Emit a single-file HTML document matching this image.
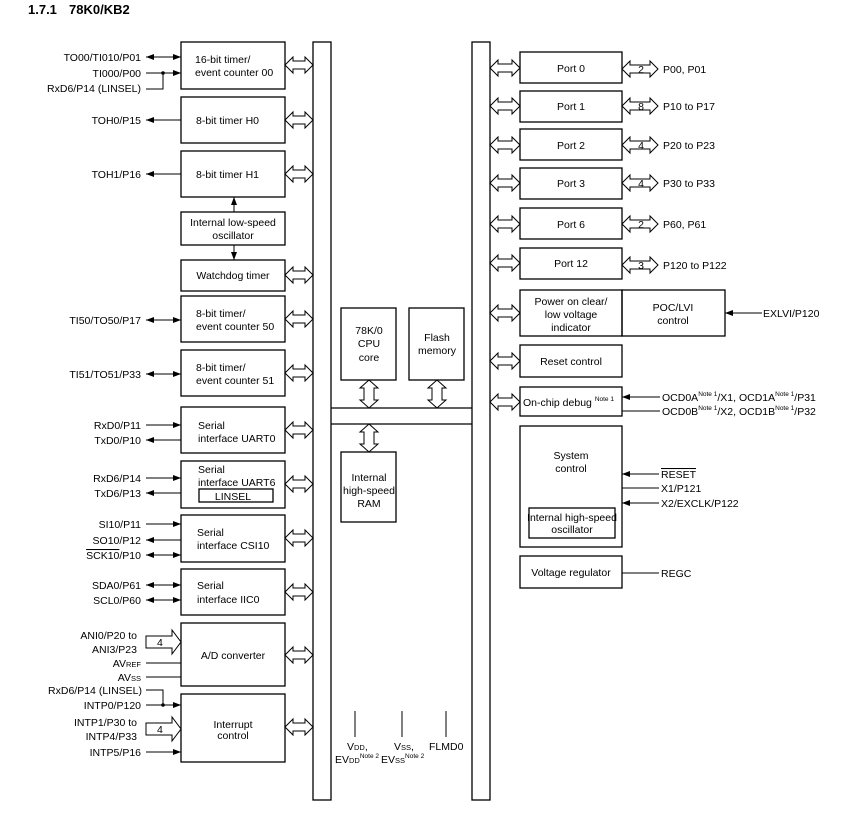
<!DOCTYPE html>
<html><head><meta charset="utf-8"><style>
body{margin:0;background:#fff}
svg{display:block;font-family:"Liberation Sans",Arial,sans-serif;font-size:10.5px}
</style></head><body>
<svg width="846" height="826" viewBox="0 0 846 826" xmlns="http://www.w3.org/2000/svg">
<defs>
<marker id="a" viewBox="0 0 8 6" refX="8" refY="3" markerWidth="8" markerHeight="6" markerUnits="userSpaceOnUse" orient="auto-start-reverse"><path d="M0,0L8,3L0,6z" fill="#000"/></marker>
</defs>
<text x="28" y="14" font-weight="bold" font-size="13">1.7.1<tspan x="69">78K0/KB2</tspan></text>
<g fill="none" stroke="#000" stroke-width="1.3">
<rect x="313" y="42" width="18" height="758"/>
<rect x="472" y="42" width="18" height="758"/>
<path d="M331 408H472M331 424H472"/>
<rect x="341" y="308" width="55" height="72"/>
<rect x="409" y="308" width="55" height="72"/>
<rect x="341" y="452" width="55" height="70"/>
<rect x="181" y="42" width="104" height="47"/>
<rect x="181" y="97" width="104" height="46"/>
<rect x="181" y="151" width="104" height="46"/>
<rect x="181" y="212" width="104" height="33"/>
<rect x="181" y="260" width="104" height="31"/>
<rect x="181" y="296" width="104" height="46"/>
<rect x="181" y="350" width="104" height="46"/>
<rect x="181" y="407" width="104" height="46"/>
<rect x="181" y="461" width="104" height="47"/>
<rect x="199" y="489" width="74" height="13"/>
<rect x="181" y="515" width="104" height="47"/>
<rect x="181" y="569" width="104" height="46"/>
<rect x="181" y="623" width="104" height="63"/>
<rect x="181" y="694" width="104" height="68"/>
<rect x="520" y="52" width="102" height="31"/>
<rect x="520" y="91" width="102" height="31"/>
<rect x="520" y="129" width="102" height="31"/>
<rect x="520" y="168" width="102" height="31"/>
<rect x="520" y="208" width="102" height="31"/>
<rect x="520" y="248" width="102" height="31"/>
<rect x="520" y="290" width="102" height="46"/>
<rect x="622" y="290" width="103" height="46"/>
<rect x="520" y="345" width="102" height="32"/>
<rect x="520" y="387" width="102" height="29"/>
<rect x="520" y="426" width="102" height="121"/>
<rect x="529" y="508" width="86" height="30"/>
<rect x="520" y="556" width="102" height="32"/>
</g>
<g fill="#fff" stroke="#000" stroke-width="1">
<path d="M285 65l8-8v4h12v-4l8 8-8 8v-4h-12v4z"/>
<path d="M285 120l8-8v4h12v-4l8 8-8 8v-4h-12v4z"/>
<path d="M285 174l8-8v4h12v-4l8 8-8 8v-4h-12v4z"/>
<path d="M285 275l8-8v4h12v-4l8 8-8 8v-4h-12v4z"/>
<path d="M285 319l8-8v4h12v-4l8 8-8 8v-4h-12v4z"/>
<path d="M285 373l8-8v4h12v-4l8 8-8 8v-4h-12v4z"/>
<path d="M285 430l8-8v4h12v-4l8 8-8 8v-4h-12v4z"/>
<path d="M285 484l8-8v4h12v-4l8 8-8 8v-4h-12v4z"/>
<path d="M285 538l8-8v4h12v-4l8 8-8 8v-4h-12v4z"/>
<path d="M285 592l8-8v4h12v-4l8 8-8 8v-4h-12v4z"/>
<path d="M285 655l8-8v4h12v-4l8 8-8 8v-4h-12v4z"/>
<path d="M285 727l8-8v4h12v-4l8 8-8 8v-4h-12v4z"/>
<path d="M490 68l8-8v4h14v-4l8 8-8 8v-4h-14v4z"/>
<path d="M490 106l8-8v4h14v-4l8 8-8 8v-4h-14v4z"/>
<path d="M490 145l8-8v4h14v-4l8 8-8 8v-4h-14v4z"/>
<path d="M490 183l8-8v4h14v-4l8 8-8 8v-4h-14v4z"/>
<path d="M490 224l8-8v4h14v-4l8 8-8 8v-4h-14v4z"/>
<path d="M490 263l8-8v4h14v-4l8 8-8 8v-4h-14v4z"/>
<path d="M490 313l8-8v4h14v-4l8 8-8 8v-4h-14v4z"/>
<path d="M490 361l8-8v4h14v-4l8 8-8 8v-4h-14v4z"/>
<path d="M490 402l8-8v4h14v-4l8 8-8 8v-4h-14v4z"/>
<path d="M622 69l8-8v4h20v-4l8 8-8 8v-4h-20v4z"/>
<path d="M622 106l8-8v4h20v-4l8 8-8 8v-4h-20v4z"/>
<path d="M622 145l8-8v4h20v-4l8 8-8 8v-4h-20v4z"/>
<path d="M622 183l8-8v4h20v-4l8 8-8 8v-4h-20v4z"/>
<path d="M622 224l8-8v4h20v-4l8 8-8 8v-4h-20v4z"/>
<path d="M622 265l8-8v4h20v-4l8 8-8 8v-4h-20v4z"/>
<path d="M369 380l9 8h-4v12h4l-9 8-9-8h4v-12h-4z"/>
<path d="M437 380l9 8h-4v12h4l-9 8-9-8h4v-12h-4z"/>
<path d="M369 424l9 8h-4v12h4l-9 8-9-8h4v-12h-4z"/>
<path d="M146 636h26v-6l9 12-9 12v-6h-26z"/>
<path d="M146 723h26v-6l9 12-9 12v-6h-26z"/>
</g>
<g stroke="#000" stroke-width="1" fill="none">
<path d="M146 57H181" marker-start="url(#a)" marker-end="url(#a)"/>
<path d="M146 73H181" marker-end="url(#a)"/>
<path d="M146 89H163V73"/>
<path d="M181 120H146" marker-end="url(#a)"/>
<path d="M181 174H146" marker-end="url(#a)"/>
<path d="M234 212V197" marker-end="url(#a)"/>
<path d="M234 245V260" marker-end="url(#a)"/>
<path d="M146 320H181" marker-start="url(#a)" marker-end="url(#a)"/>
<path d="M146 374H181" marker-start="url(#a)" marker-end="url(#a)"/>
<path d="M146 425H181" marker-end="url(#a)"/>
<path d="M181 440H146" marker-end="url(#a)"/>
<path d="M146 478H181" marker-end="url(#a)"/>
<path d="M181 493H146" marker-end="url(#a)"/>
<path d="M146 524H181" marker-end="url(#a)"/>
<path d="M181 540H146" marker-end="url(#a)"/>
<path d="M146 555H181" marker-start="url(#a)" marker-end="url(#a)"/>
<path d="M146 585H181" marker-start="url(#a)" marker-end="url(#a)"/>
<path d="M146 600H181" marker-start="url(#a)" marker-end="url(#a)"/>
<path d="M146 663H181M146 677H181"/>
<path d="M146 690H163V705"/>
<path d="M146 705H181" marker-end="url(#a)"/>
<path d="M146 752H181" marker-end="url(#a)"/>
<path d="M762 313H725" marker-end="url(#a)"/>
<path d="M660 397H622" marker-end="url(#a)"/>
<path d="M622 411H660"/>
<path d="M659 474H622" marker-end="url(#a)"/>
<path d="M622 488H659"/>
<path d="M659 503H622" marker-end="url(#a)"/>
<path d="M622 573H659"/>
<path d="M355 711V737M402 711V737M446 711V737"/>
</g>
<circle cx="163" cy="73" r="1.8"/><circle cx="163" cy="705" r="1.8"/>
<g text-anchor="end">
<text x="141" y="61">TO00/TI010/P01</text>
<text x="141" y="77">TI000/P00</text>
<text x="141" y="92">RxD6/P14 (LINSEL)</text>
<text x="141" y="124">TOH0/P15</text>
<text x="141" y="178">TOH1/P16</text>
<text x="141" y="324">TI50/TO50/P17</text>
<text x="141" y="378">TI51/TO51/P33</text>
<text x="141" y="429">RxD0/P11</text>
<text x="141" y="444">TxD0/P10</text>
<text x="141" y="482">RxD6/P14</text>
<text x="141" y="497">TxD6/P13</text>
<text x="141" y="528">SI10/P11</text>
<text x="141" y="544">SO10/P12</text>
<text x="141" y="559"><tspan text-decoration="overline">SCK10</tspan>/P10</text>
<text x="141" y="589">SDA0/P61</text>
<text x="141" y="604">SCL0/P60</text>
<text x="137" y="639">ANI0/P20 to</text>
<text x="137" y="653">ANI3/P23</text>
<text x="141" y="667">AV<tspan font-size="7.5">REF</tspan></text>
<text x="141" y="681">AV<tspan font-size="7.5">SS</tspan></text>
<text x="142" y="694">RxD6/P14 (LINSEL)</text>
<text x="141" y="709">INTP0/P120</text>
<text x="137" y="726">INTP1/P30 to</text>
<text x="137" y="740">INTP4/P33</text>
<text x="141" y="756">INTP5/P16</text>
</g>
<text x="157" y="646">4</text><text x="157" y="733">4</text>
<g>
<text x="195" y="63">16-bit timer/</text>
<text x="195" y="76">event counter 00</text>
<text x="196" y="124">8-bit timer H0</text>
<text x="196" y="178">8-bit timer H1</text>
<g text-anchor="middle">
<text x="233" y="226">Internal low-speed</text>
<text x="233" y="239">oscillator</text>
<text x="233" y="279">Watchdog timer</text>
<text x="233" y="500">LINSEL</text>
<text x="233" y="659">A/D converter</text>
<text x="233" y="728">Interrupt</text>
<text x="233" y="739">control</text>
<text x="369" y="334">78K/0</text>
<text x="369" y="347">CPU</text>
<text x="369" y="361">core</text>
<text x="437" y="341">Flash</text>
<text x="437" y="354">memory</text>
<text x="369" y="481">Internal</text>
<text x="369" y="494">high-speed</text>
<text x="369" y="507">RAM</text>
<text x="571" y="72">Port 0</text>
<text x="571" y="110">Port 1</text>
<text x="571" y="149">Port 2</text>
<text x="571" y="187">Port 3</text>
<text x="571" y="228">Port 6</text>
<text x="571" y="267">Port 12</text>
<text x="571" y="305">Power on clear/</text>
<text x="571" y="318">low voltage</text>
<text x="571" y="331">indicator</text>
<text x="673" y="311">POC/LVI</text>
<text x="673" y="324">control</text>
<text x="571" y="365">Reset control</text>
<text x="571" y="459">System</text>
<text x="571" y="472">control</text>
<text x="572" y="521">Internal high-speed</text>
<text x="572" y="533">oscillator</text>
<text x="571" y="576">Voltage regulator</text>
<text x="641" y="73">2</text><text x="641" y="110">8</text><text x="641" y="149">4</text>
<text x="641" y="187">4</text><text x="641" y="228">2</text><text x="641" y="269">3</text>
</g>
<text x="196" y="317">8-bit timer/</text>
<text x="196" y="330">event counter 50</text>
<text x="196" y="371">8-bit timer/</text>
<text x="196" y="384">event counter 51</text>
<text x="198" y="429">Serial</text>
<text x="198" y="442">interface UART0</text>
<text x="198" y="473">Serial</text>
<text x="198" y="486">interface UART6</text>
<text x="197" y="536">Serial</text>
<text x="197" y="549">interface CSI10</text>
<text x="197" y="589">Serial</text>
<text x="197" y="603">interface IIC0</text>
<text x="523" y="406">On-chip debug <tspan font-size="6.5" dy="-5">Note 1</tspan></text>
</g>
<text x="663" y="73">P00, P01</text>
<text x="663" y="110">P10 to P17</text>
<text x="663" y="149">P20 to P23</text>
<text x="663" y="187">P30 to P33</text>
<text x="663" y="228">P60, P61</text>
<text x="663" y="269">P120 to P122</text>
<text x="763" y="317">EXLVI/P120</text>
<text x="662" y="401">OCD0A<tspan font-size="6.5" dy="-5">Note 1</tspan><tspan dy="5">/X1, OCD1A</tspan><tspan font-size="6.5" dy="-5">Note 1</tspan><tspan dy="5">/P31</tspan></text>
<text x="662" y="415">OCD0B<tspan font-size="6.5" dy="-5">Note 1</tspan><tspan dy="5">/X2, OCD1B</tspan><tspan font-size="6.5" dy="-5">Note 1</tspan><tspan dy="5">/P32</tspan></text>
<text x="661" y="478" text-decoration="overline">RESET</text>
<text x="661" y="492">X1/P121</text>
<text x="661" y="507">X2/EXCLK/P122</text>
<text x="661" y="577">REGC</text>
<text x="347" y="750">V<tspan font-size="7.5">DD</tspan>,</text>
<text x="335" y="763">EV<tspan font-size="7.5">DD</tspan><tspan font-size="6.5" dy="-5">Note 2</tspan></text>
<text x="394" y="750">V<tspan font-size="7.5">SS</tspan>,</text>
<text x="381" y="763">EV<tspan font-size="7.5">SS</tspan><tspan font-size="6.5" dy="-5">Note 2</tspan></text>
<text x="429" y="750">FLMD0</text>
</svg>
</body></html>
